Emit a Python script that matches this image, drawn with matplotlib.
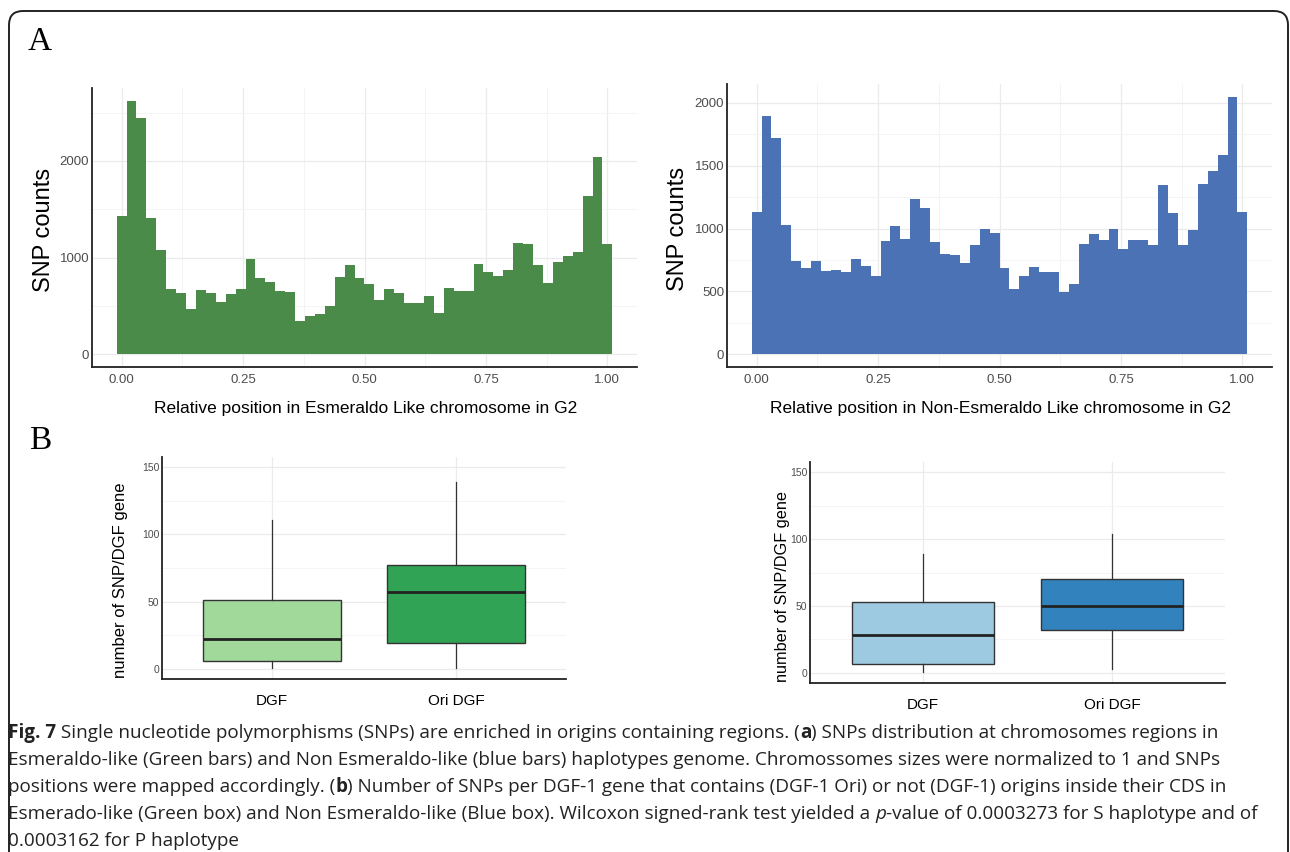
import numpy as np
import matplotlib.pyplot as plt
from matplotlib.patches import FancyBboxPatch
from matplotlib.transforms import IdentityTransform

# --- data ---
# 50 bins over the normalised chromosome position (bin centres k/49)
esm_counts = [1431, 2624, 2444, 1414, 1075, 672, 638, 468, 662, 634,
              541, 620, 679, 988, 794, 749, 655, 645, 343, 395,
              412, 503, 797, 925, 787, 731, 565, 676, 638, 530,
              527, 607, 430, 690, 655, 655, 936, 853, 815, 873,
              1147, 1144, 922, 735, 957, 1016, 1057, 1633, 2038, 1140]
non_counts = [1131, 1894, 1722, 1030, 744, 686, 739, 660, 668, 654,
              758, 702, 623, 903, 1020, 919, 1232, 1163, 893, 797,
              787, 726, 869, 996, 967, 686, 519, 623, 694, 657,
              657, 493, 562, 877, 959, 911, 996, 834, 911, 906,
              872, 1343, 1126, 866, 985, 1356, 1460, 1584, 2048, 1134]
n_bins = len(esm_counts)

box_labels = ["DGF", "Ori DGF"]
# whislo, q1, median, q3, whishi
esm_box = [[1, 6, 22, 51, 111], [1, 19, 57, 77, 139]]
non_box = [[1, 7, 28, 53, 89], [3, 32, 50, 70, 104]]

W, H = 1290, 852
fig = plt.figure(figsize=(W / 100, H / 100), dpi=100)
fig.patch.set_facecolor("white")

grey_txt = "#4D4D4D"
grid_major = "#EBEBEB"
grid_minor = "#F4F4F4"


def px_axes(l, t, r, b):
    return fig.add_axes([l / W, 1 - b / H, (r - l) / W, (b - t) / H])


def style(ax, tsize, xpad, ypad):
    for s in ["top", "right"]:
        ax.spines[s].set_visible(False)
    for s in ["left", "bottom"]:
        ax.spines[s].set_color("#222222")
        ax.spines[s].set_linewidth(1.3)
    ax.tick_params(length=0, labelsize=tsize, labelcolor=grey_txt)
    ax.tick_params(axis="x", pad=xpad)
    ax.tick_params(axis="y", pad=ypad)
    ax.grid(True, which="major", color=grid_major, lw=0.9)
    ax.grid(True, which="minor", color=grid_minor, lw=0.7)
    ax.tick_params(which="minor", length=0)
    ax.set_axisbelow(True)
    for lab in ax.get_xticklabels() + ax.get_yticklabels():
        lab.set_family("Liberation Sans")


def hist_panel(ax, counts, color, ymajor, yminor):
    edges = np.linspace(-0.5 / (n_bins - 1), 1 + 0.5 / (n_bins - 1), n_bins + 1)
    ax.bar(edges[:-1], counts, width=np.diff(edges), align="edge",
           color=color, edgecolor="none")
    ax.set_xlim(-0.061, 1.061)
    ymax = max(counts) * 1.05
    ax.set_ylim(-max(counts) * 0.05, ymax)
    ax.set_xticks([0, 0.25, 0.5, 0.75, 1.0])
    ax.set_xticklabels(["0.00", "0.25", "0.50", "0.75", "1.00"])
    ax.set_xticks([0.125, 0.375, 0.625, 0.875], minor=True)
    ax.set_yticks(ymajor)
    ax.set_yticks(yminor, minor=True)
    style(ax, 9.5, 5, 2)


def box_panel(ax, stats_vals, colors):
    stats = []
    for lab, v in zip(box_labels, stats_vals):
        stats.append(dict(label=lab, whislo=v[0], q1=v[1], med=v[2], q3=v[3], whishi=v[4], fliers=[]))
    bp = ax.bxp(stats, positions=[1, 2], widths=0.75, patch_artist=True,
                showcaps=False,
                boxprops=dict(edgecolor="#333333", lw=1.0),
                medianprops=dict(color="#222222", lw=2.0),
                whiskerprops=dict(color="#333333", lw=0.9))
    for patch, c in zip(bp["boxes"], colors):
        patch.set_facecolor(c)
    ax.set_xlim(0.4, 2.6)
    ax.set_ylim(-7.5, 157.5)
    ax.set_yticks([0, 50, 100, 150])
    ax.set_yticks([25, 75, 125], minor=True)
    style(ax, 7.5, 11, 2)
    for lab in ax.get_xticklabels():
        lab.set_color("black")
        lab.set_fontsize(11)
        lab.set_family("Liberation Sans")


# --- panel A ---
ax1 = px_axes(92, 88, 637, 367)
hist_panel(ax1, esm_counts, "#4A8B49", [0, 1000, 2000], [500, 1500, 2500])
ax2 = px_axes(727, 84, 1272, 367)
hist_panel(ax2, non_counts, "#4A72B5", [0, 500, 1000, 1500, 2000], [250, 750, 1250, 1750])

# --- panel B ---
ax3 = px_axes(162, 457, 566, 679)
box_panel(ax3, esm_box, ["#A1D99B", "#31A354"])
ax4 = px_axes(810, 462, 1225, 683)
box_panel(ax4, non_box, ["#9ECAE1", "#3182BD"])


def ftext(x, y, s, **kw):
    return fig.text(x / W, 1 - y / H, s, **kw)


lab_kw = dict(family="Liberation Sans", color="black", ha="center", va="center")
ftext(44, 230, "SNP counts", rotation=90, fontsize=17, **lab_kw)
ftext(678, 229, "SNP counts", rotation=90, fontsize=17, **lab_kw)
ftext(366, 408, "Relative position in Esmeraldo Like chromosome in G2", fontsize=12.5, **lab_kw)
ftext(1000, 408, "Relative position in Non-Esmeraldo Like chromosome in G2", fontsize=12.5, **lab_kw)
ftext(120, 580, "number of SNP/DGF gene", rotation=90, fontsize=12, **lab_kw)
ftext(783, 586, "number of SNP/DGF gene", rotation=90, fontsize=11.7, **lab_kw)

ftext(40, 42, "A", fontsize=24, family="Liberation Serif", ha="center", va="center")
ftext(40, 441, "B", fontsize=24, family="Liberation Serif", ha="center", va="center")

# rounded frame around the figure (open at bottom)
frame = FancyBboxPatch((9, -30), 1279, H - 11 + 30,
                       boxstyle="round,pad=0,rounding_size=14",
                       transform=IdentityTransform(), facecolor="none",
                       edgecolor="#222222", lw=1.4)
fig.add_artist(frame)

# --- caption ---
cap_lines = [
    [("Fig. 7", "bold", "normal"),
     (" Single nucleotide polymorphisms (SNPs) are enriched in origins containing regions. (", "normal", "normal"),
     ("a", "bold", "normal"),
     (") SNPs distribution at chromosomes regions in", "normal", "normal")],
    [("Esmeraldo-like (Green bars) and Non Esmeraldo-like (blue bars) haplotypes genome. Chromossomes sizes were normalized to 1 and SNPs",
      "normal", "normal")],
    [("positions were mapped accordingly. (", "normal", "normal"),
     ("b", "bold", "normal"),
     (") Number of SNPs per DGF-1 gene that contains (DGF-1 Ori) or not (DGF-1) origins inside their CDS in", "normal", "normal")],
    [("Esmerado-like (Green box) and Non Esmeraldo-like (Blue box). Wilcoxon signed-rank test yielded a ", "normal", "normal"),
     ("p", "normal", "italic"),
     ("-value of 0.0003273 for S haplotype and of", "normal", "normal")],
    [("0.0003162 for P haplotype", "normal", "normal")],
]
cap_y = [733, 760, 787, 814, 841]
renderer = fig.canvas.get_renderer()
for parts, y in zip(cap_lines, cap_y):
    x = 8
    for txt, wgt, sty in parts:
        t = ftext(x, y, txt, fontsize=13.6, fontweight=wgt, fontstyle=sty,
                  family="Open Sans", color="#222222", ha="left", va="center")
        bb = t.get_window_extent(renderer=renderer)
        x = bb.x1

fig.savefig("out.png", dpi=100)
